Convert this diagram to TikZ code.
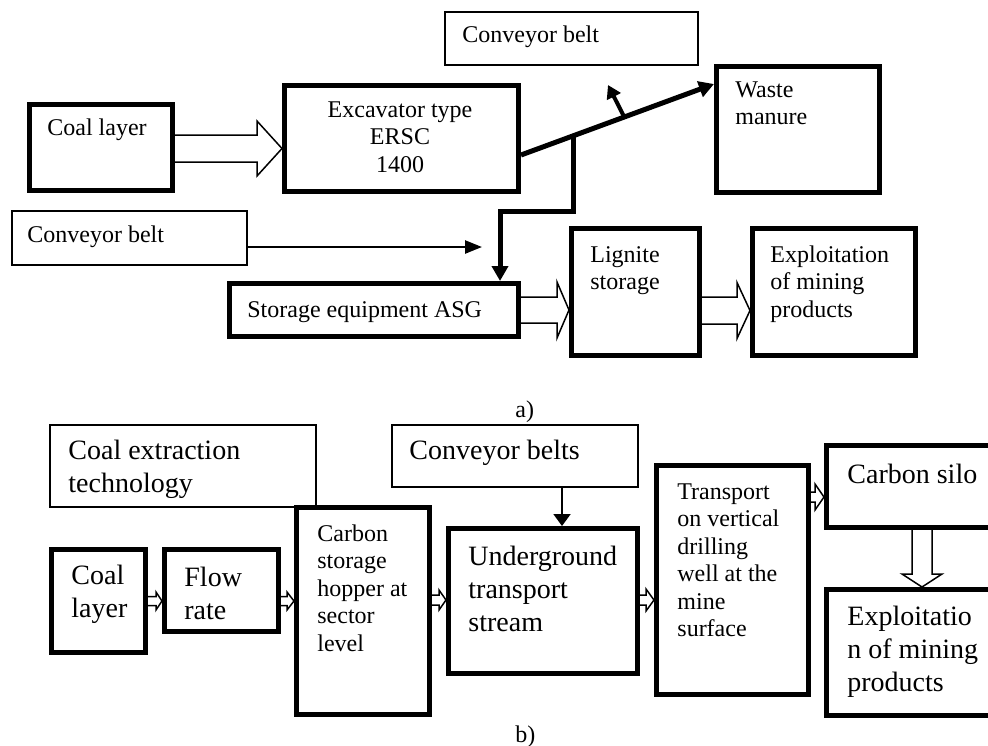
\documentclass[tikz,border=0pt]{standalone}
\usepackage{fontspec}
\setmainfont{Liberation Serif}
\usetikzlibrary{arrows.meta,calc}
\tikzset{
  thickbox/.style={draw, line width=2.5pt, rectangle, inner sep=0pt},
  thinbox/.style={draw, line width=0.75pt, rectangle, inner sep=0pt},
  txt/.style={inner sep=0pt, anchor=base west, align=left, font=\fontsize{12}{13.75}\selectfont},
  bigtxt/.style={txt, font=\fontsize{14}{16.5}\selectfont},
  hollow/.style={draw, line width=0.75pt, line join=miter},
  thickline/.style={line width=2.5pt, -{Triangle[length=7.5pt,width=8pt]}},
  smallarrow/.style={line width=2pt, -{Triangle[length=6.5pt,width=7.5pt]}},
  thinarrow/.style={line width=1.25pt, -{Triangle[length=8.5pt,width=6.5pt]}},
  thinarrowb/.style={line width=1pt, -{Triangle[length=6pt,width=8.5pt]}}
}
\newcommand\bx[6]{\node[#2, minimum width={(#5-#3)*0.5pt}, minimum height={(#6-#4)*0.5pt}] (#1) at ({(#3+#5)/2},{(#4+#6)/2}) {};}
\newcommand\harrow[5]{\draw[hollow] let \p1=#1, \p2=#2 in
  (\x1,\y2+#3*0.5pt) -- (\x2-#5*0.5pt,\y2+#3*0.5pt) -- (\x2-#5*0.5pt,\y2+#4*0.5pt) -- (\x2,\y2)
  -- (\x2-#5*0.5pt,\y2-#4*0.5pt) -- (\x2-#5*0.5pt,\y2-#3*0.5pt) -- (\x1,\y2-#3*0.5pt);}
\newcommand\varrowd[5]{\draw[hollow] let \p1=#1, \p2=#2 in
  (\x2+#3*0.5pt,\y1) -- (\x2+#3*0.5pt,\y2+#5*0.5pt) -- (\x2+#4*0.5pt,\y2+#5*0.5pt) -- (\x2,\y2)
  -- (\x2-#4*0.5pt,\y2+#5*0.5pt) -- (\x2-#3*0.5pt,\y2+#5*0.5pt) -- (\x2-#3*0.5pt,\y1);}
\begin{document}
\begin{tikzpicture}[x=0.5pt,y=-0.5pt]
\useasboundingbox (0,0) rectangle (988,745);
\clip (0,0) rectangle (988,745);
% ---------- part a) ----------
\bx{coal}{thickbox}{29.5}{104.5}{172.5}{190.5}
\bx{exc}{thickbox}{284.5}{85.5}{518.5}{191.5}
\bx{conv1}{thinbox}{445}{12}{698}{65}
\bx{waste}{thickbox}{716.5}{66.5}{879.5}{192.5}
\bx{conv2}{thinbox}{12}{211}{247}{265}
\bx{stor}{thickbox}{229.5}{283.5}{518.5}{336.5}
\bx{lig}{thickbox}{571.5}{228.5}{699.5}{355.5}
\bx{expl1}{thickbox}{752.5}{228.5}{915.5}{355.5}

% multi-line nodes: base anchor = baseline of the last line
\node[txt] (t-coal) at (47,135) {Coal layer};
\node[txt, anchor=base, align=center] (t-exc) at (400,172) {Excavator type\\ERSC\\1400};
\node[txt] (t-conv1) at (462,42) {Conveyor belt};
\node[txt] (t-waste) at (735,124.5) {Waste\\manure};
\node[txt] (t-conv2) at (27,242) {Conveyor belt};
\node[txt] (t-stor) at (247,317) {Storage equipment ASG};
\node[txt] (t-lig) at (590,289.5) {Lignite\\storage};
\node[txt] (t-expl1) at (770,317) {Exploitation\\of mining\\products};
\node[txt] (t-a) at (515,417) {a)};

\harrow{(coal.east)}{(exc.west |- 0,148.5)}{13.5}{27.5}{25}
\harrow{(stor.east)}{(lig.west |- 0,310)}{13}{28}{12}
\harrow{(lig.east)}{(expl1.west |- 0,310.5)}{13.5}{28}{13}

\coordinate (wastein) at (waste.west |- 0,84);
\coordinate (excout) at (exc.east |- 0,155);
\draw[thickline] (excout) -- (wastein);
\coordinate (j1) at ($(excout)!0.274!(wastein)$);
\coordinate (bend) at (500,211);
\draw[thickline] (j1) |- (bend) -- (bend |- stor.north);
\coordinate (j2) at ($(excout)!0.535!(wastein)$);
\coordinate (up) at (608,85);
\draw[smallarrow] (j2) -- (up);
\coordinate (c2end) at (482,247);
\draw[thinarrow] (conv2.east |- c2end) -- (c2end);

% ---------- part b) ----------
\bx{tech}{thinbox}{50}{425}{316}{507}
\bx{conv3}{thinbox}{392}{425}{638}{487}
\bx{coal2}{thickbox}{51.5}{549.5}{145.5}{652.5}
\bx{flow}{thickbox}{164.5}{549.5}{278.5}{631.5}
\bx{hop}{thickbox}{296.5}{507.5}{429.5}{714.5}
\bx{under}{thickbox}{448.5}{528.5}{637.5}{673.5}
\bx{trans}{thickbox}{656.5}{465.5}{808.5}{694.5}
\bx{silo}{thickbox}{826.5}{445.5}{1010}{527.5}
\bx{expl2}{thickbox}{826.5}{589.5}{1010}{715.5}

\node[bigtxt] (t-tech) at (68,492) {Coal extraction\\technology};
\node[bigtxt] (t-conv3) at (409,459) {Conveyor belts};
\node[bigtxt] (t-coal2) at (71,617) {Coal\\layer};
\node[bigtxt] (t-flow) at (184,619) {Flow\\rate};
\node[txt] (t-hop) at (317,651) {Carbon\\storage\\hopper at\\sector\\level};
\node[bigtxt] (t-under) at (468,631) {Underground\\transport\\stream};
\node[txt] (t-trans) at (677,636.5) {Transport\\on vertical\\drilling\\well at the\\mine\\surface};
\node[bigtxt] (t-silo) at (847,483) {Carbon silo};
\node[bigtxt] (t-expl2) at (847,691) {Exploitatio\\n of mining\\products};
\node[txt] (t-b) at (515,742) {b)};

\harrow{(coal2.east)}{(flow.west |- 0,601)}{4.5}{9}{6}
\harrow{(flow.east)}{(hop.west |- 0,601)}{4.5}{9}{7}
\harrow{(hop.east)}{(under.west |- 0,600)}{5}{10}{7}
\harrow{(under.east)}{(trans.west |- 0,600)}{5}{11}{8}
\harrow{(trans.east)}{(silo.west |- 0,497)}{5}{13}{9}
\varrowd{(silo.south -| 922,0)}{(expl2.north -| 922,0)}{10}{20}{13}
\draw[thinarrowb] (conv3.south -| 562,0) -- (under.north -| 562,0);
\end{tikzpicture}
\end{document}
